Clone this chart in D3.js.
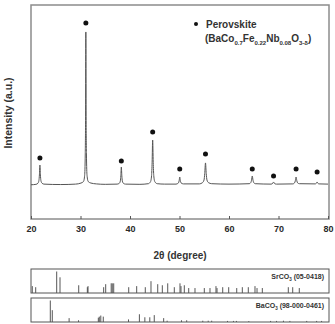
<!DOCTYPE html>
<html><head><meta charset="utf-8">
<script src="https://cdn.jsdelivr.net/npm/d3@7"></script>
<style>
html,body{margin:0;padding:0;background:#fff;}
svg{display:block;font-family:"Liberation Sans",Arial,sans-serif;}
</style></head>
<body><svg id="c" width="335" height="324"></svg>
<script>
// XRD pattern points [2theta, intensity (a.u.)]
const pattern = [
[20,160],[21.0,162],[21.4,167],[21.6,180],[21.7,206],[21.8,252],[21.9,206],[22.0,180],[22.2,168],[22.6,163],
[26,161],[29.0,163],[30.1,168],[30.6,175],[30.84,204],[30.96,304],[31.02,460],[31.08,874],[31.14,460],[31.2,304],[31.32,204],[31.56,175],[32.1,168],[33.2,164],
[35,162],[37.4,163],[37.85,167],[38.05,178],[38.15,202],[38.25,243],[38.35,202],[38.45,178],[38.65,167],[39.1,163],
[42,162],[43.7,165],[44.14,174],[44.36,203],[44.47,265],[44.58,369],[44.69,265],[44.8,203],[45.02,174],[45.5,165],[47,163],
[49.3,163],[49.8,169],[49.93,179],[50.05,196],[50.17,179],[50.3,169],[50.8,164],
[54,164],[54.65,170],[54.95,182],[55.1,212],[55.25,262],[55.4,212],[55.55,182],[55.85,170],[56.5,165],
[60,163],[64.1,165],[64.4,170],[64.55,181],[64.7,201],[64.85,181],[65.0,170],[65.3,165],
[68.5,163],[68.7,164],[68.85,167],[69.0,173],[69.15,167],[69.3,164],[69.6,163],
[72.9,164],[73.25,169],[73.4,179],[73.55,196],[73.7,179],[73.85,169],[74.2,165],
[77.4,164],[77.65,167],[77.8,173],[77.95,167],[78.2,164],[80,163]
];
// perovskite peak markers [2theta, marker intensity]
const markers = [[21.8,285],[31.08,916],[38.25,271],[44.58,407],[50.05,234],[55.25,304],[64.7,234],[69.0,201],[73.55,234],[77.8,220]];
const xTicks = [20,30,40,50,60,70,80];
// reference sticks [2theta, relative intensity]
const srco3 = [[20.26,32],[20.95,27],[25.19,100],[25.86,73],[29.64,36],[31.38,27],[31.52,32],[34.68,27],[35.09,41],[36.2,45],[36.42,45],[36.71,45],
[39.74,27],[41.35,32],[43.09,27],[44.24,55],[45.6,41],[46.53,36],[47.62,45],[48.95,27],[50.1,45],[50.3,32],[50.97,36],[51.86,23],[53.13,23],
[55.01,23],[56.16,23],[57.37,32],[57.58,23],[58.73,27],[59.94,27],[61.56,23],[62.69,27],[63.9,27],[65.25,32],[65.66,23],[66.73,23],[71.98,27],[72.87,27],[74.2,23]];
const baco3 = [[23.9,100],[24.3,55],[27.7,18],[29.6,8],[33.6,20],[33.8,25],[34.1,30],[34.6,25],[39.7,12],[41.9,36],[43.0,22],[44.0,22],[44.9,32],
[46.8,18],[47.5,6],[50.4,8],[51.45,8],[54.7,6],[55.8,6],[56.5,6],[59.7,5],[60.9,5],[61.5,5],[64.0,4],[68.4,5],[69.6,5],[71.0,6],[72.3,5],[75.7,5],[77.7,5],[78.7,5]];

const svg = d3.select("#c");
const x = d3.scaleLinear().domain([20,80]).range([31,328]);
const y = d3.scaleLinear().domain([0,1000]).range([219,5]);

// main frame
svg.append("rect").attr("x",31).attr("y",5).attr("width",298).attr("height",214)
  .attr("fill","none").attr("stroke","#8c8c8c").attr("stroke-width",1.5);

// bottom axis ticks (inward) and labels
const ax = d3.axisBottom(x).tickValues(xTicks).tickSizeInner(-3).tickSizeOuter(0).tickPadding(7);
const g = svg.append("g").attr("transform","translate(0,219)").call(ax);
g.select(".domain").remove();
g.selectAll(".tick line").attr("stroke","#555");
g.selectAll(".tick text").attr("font-size",9).attr("font-weight","bold").attr("fill","#2a2a2a")
  .attr("font-family","Liberation Sans,Arial,sans-serif");

// pattern line
const line = d3.line().x(d=>x(d[0])).y(d=>y(d[1])).curve(d3.curveMonotoneX);
svg.append("path").datum(pattern).attr("d",line).attr("fill","none").attr("stroke","#555").attr("stroke-width",1);

// markers
svg.selectAll("circle.m").data(markers).join("circle").attr("class","m")
  .attr("cx",d=>x(d[0])).attr("cy",d=>y(d[1])).attr("r",2.5).attr("fill","#111");

// legend
svg.append("circle").attr("cx",196).attr("cy",24).attr("r",2).attr("fill","#111");
svg.append("text").attr("x",206).attr("y",28).attr("font-size",10).attr("font-weight","bold").attr("fill","#333").text("Perovskite");
const t2 = svg.append("text").attr("x",205).attr("y",42).attr("font-size",10).attr("font-weight","bold").attr("fill","#333");
const parts = [["(BaCo",0],["0.7",1],["Fe",0],["0.22",1],["Nb",0],["0.08",1],["O",0],["3-δ",1],[")",0]];
parts.forEach((p,i)=>{
  const prev = i>0 ? parts[i-1][1] : 0;
  let dy = 0;
  if(p[1] && !prev) dy = 2.5;
  if(!p[1] && prev) dy = -2.5;
  const ts = t2.append("tspan").text(p[0]).attr("dy",dy);
  if(p[1]) ts.attr("font-size",6);
});

// axis titles
svg.append("text").attr("transform","translate(12,113) rotate(-90)").attr("text-anchor","middle")
  .attr("font-size",10.5).attr("font-weight","bold").attr("fill","#333").text("Intensity (a.u.)");
svg.append("text").attr("x",180).attr("y",259).attr("text-anchor","middle")
  .attr("font-size",10).attr("font-weight","bold").attr("fill","#333").text("2θ (degree)");

// reference panels
function panel(data, top, bottom, label){
  const py = d3.scaleLinear().domain([0,100]).range([bottom, bottom-21.5]);
  svg.selectAll(null).data(data).join("line")
    .attr("x1",d=>x(d[0])).attr("x2",d=>x(d[0])).attr("y1",bottom).attr("y2",d=>py(d[1]))
    .attr("stroke","#444").attr("stroke-width",0.9);
  svg.append("rect").attr("x",31).attr("y",top).attr("width",298).attr("height",bottom-top)
    .attr("fill","none").attr("stroke","#555").attr("stroke-width",1);
  const t = svg.append("text").attr("x",324).attr("y",top+10).attr("text-anchor","end")
    .attr("font-size",7).attr("font-weight","bold").attr("fill","#333");
  t.append("tspan").text(label[0]);
  t.append("tspan").text(label[1]).attr("font-size",4.5).attr("dy",1.5);
  t.append("tspan").text(label[2]).attr("dy",-1.5);
}
panel(srco3, 269, 293, ["SrCO","3"," (05-0418)"]);
panel(baco3, 298, 322, ["BaCO","3"," (98-000-0461)"]);
</script></body></html>
